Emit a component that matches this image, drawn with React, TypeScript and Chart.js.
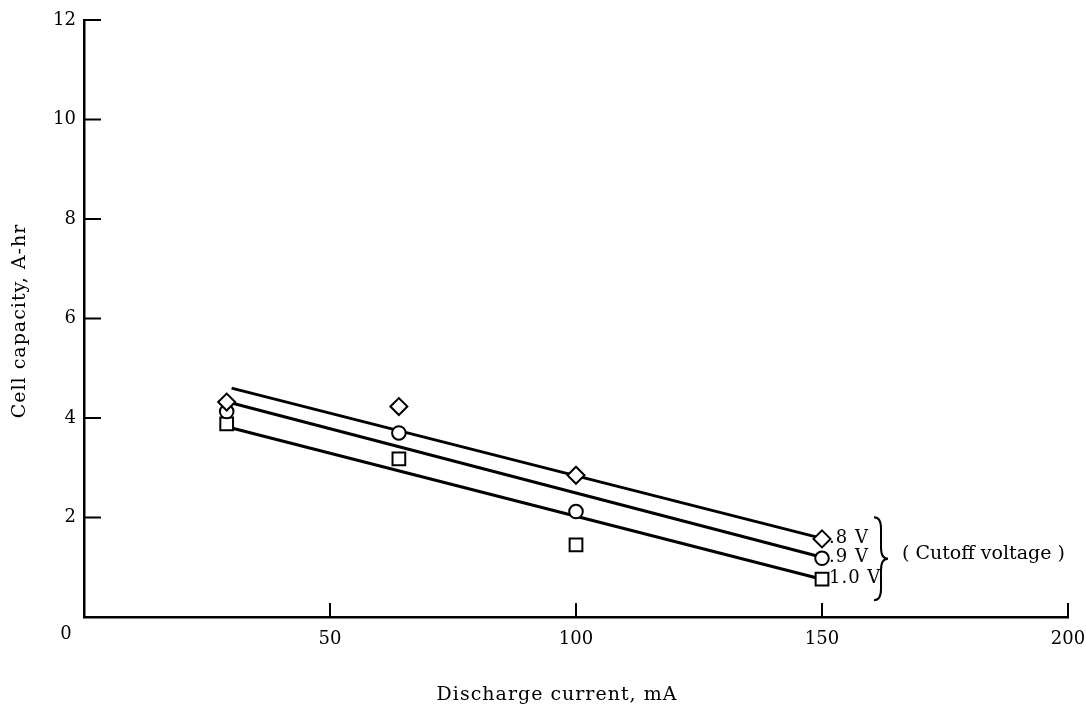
import React, { useEffect, useRef } from 'react';
import { Chart, registerables } from 'chart.js';

Chart.register(...registerables);

// Discharge current (mA) for the measured points
const currents = [29, 64, 100, 150];
// Measured cell capacity (A-hr) for each cutoff voltage
const cap08 = [4.32, 4.23, 2.85, 1.57];
const cap09 = [4.13, 3.7, 2.12, 1.18];
const cap10 = [3.88, 3.18, 1.45, 0.76];
// Fitted straight lines (end points)
const fitX = [30, 150];
const fit08 = [4.6, 1.58];
const fit09 = [4.3, 1.2];
const fit10 = [3.8, 0.76];

const seriesLabels = ['.8 V', '.9 V', '1.0 V'];
const xTicks = [0, 50, 100, 150, 200];
const yTicks = [0, 2, 4, 6, 8, 10, 12];
const xTitle = 'Discharge current, mA';
const yTitle = 'Cell capacity, A-hr';
const groupNote = '( Cutoff voltage )';
const originLabel = '0';

const FONT = '"DejaVu Serif", serif';

function drawBrace(ctx: CanvasRenderingContext2D, x: number, top: number, bottom: number, w: number) {
  const mid = (top + bottom) / 2;
  const r = w / 2;
  ctx.beginPath();
  ctx.moveTo(x, top);
  ctx.quadraticCurveTo(x + r, top, x + r, top + r * 1.6);
  ctx.lineTo(x + r, mid - r * 1.6);
  ctx.quadraticCurveTo(x + r, mid, x + w, mid);
  ctx.quadraticCurveTo(x + r, mid, x + r, mid + r * 1.6);
  ctx.lineTo(x + r, bottom - r * 1.6);
  ctx.quadraticCurveTo(x + r, bottom, x, bottom);
  ctx.stroke();
}

const annotPlugin = {
  id: 'annot',
  afterDraw(chart: any) {
    const ctx: CanvasRenderingContext2D = chart.ctx;
    const xs = chart.scales.x;
    const ys = chart.scales.y;
    const area = chart.chartArea;
    ctx.save();
    ctx.strokeStyle = '#000';
    ctx.fillStyle = '#000';
    ctx.lineWidth = 2;
    ctx.lineCap = 'butt';
    // inward tick marks
    yTicks.forEach((v) => {
      if (v === 0) return;
      const py = ys.getPixelForValue(v);
      ctx.beginPath();
      ctx.moveTo(area.left, py);
      ctx.lineTo(area.left + 17, py);
      ctx.stroke();
    });
    xTicks.forEach((v) => {
      if (v === 0) return;
      const px = xs.getPixelForValue(v);
      ctx.beginPath();
      ctx.moveTo(px, area.bottom);
      ctx.lineTo(px, area.bottom - 14);
      ctx.stroke();
    });

    // origin label
    ctx.font = `18px ${FONT}`;
    ctx.textAlign = 'center';
    ctx.textBaseline = 'middle';
    ctx.fillText(originLabel, xs.getPixelForValue(0) - 18, ys.getPixelForValue(0) + 17);

    // series labels
    const lastVals = [cap08[3], cap09[3], cap10[3]];
    const lastX = xs.getPixelForValue(currents[3]);
    ctx.font = `18px ${FONT}`;
    (ctx as any).letterSpacing = '1px';
    ctx.textAlign = 'left';
    ctx.textBaseline = 'middle';
    lastVals.forEach((v, i) => {
      ctx.fillText(seriesLabels[i], lastX + 7, ys.getPixelForValue(v) - 1);
    });

    // brace
    const midY = ys.getPixelForValue(cap09[3]);
    ctx.lineWidth = 2;
    drawBrace(ctx, lastX + 52, midY - 41, midY + 42, 14);
    (ctx as any).letterSpacing = '0px';
    ctx.font = `19px ${FONT}`;
    ctx.fillText(groupNote, lastX + 80, midY - 4);

    // axis titles
    (ctx as any).letterSpacing = '1px';
    ctx.font = `19px ${FONT}`;
    ctx.textAlign = 'center';
    ctx.textBaseline = 'middle';
    ctx.fillText(xTitle, 557, area.bottom + 78);
    ctx.save();
    ctx.translate(20, 321);
    ctx.rotate(-Math.PI / 2);
    ctx.fillText(yTitle, 0, 0);
    ctx.restore();
    (ctx as any).letterSpacing = '0px';
    ctx.restore();
  },
};

const pts = (xsArr: number[], ysArr: number[]) => xsArr.map((x, i) => ({ x, y: ysArr[i] }));

export default function App() {
  const ref = useRef<HTMLCanvasElement | null>(null);
  useEffect(() => {
    if (!ref.current) return;
    const markerBase = {
      showLine: false,
      borderColor: '#000',
      backgroundColor: '#fff',
      borderWidth: 2,
      order: 0,
    };
    const lineBase = {
      showLine: true,
      borderColor: '#000',
      backgroundColor: '#000',
      borderWidth: 3,
      pointRadius: 0,
      order: 1,
    };
    const chart = new Chart(ref.current, {
      type: 'scatter',
      data: {
        datasets: [
          { ...markerBase, label: seriesLabels[0], data: pts(currents, cap08), pointStyle: 'rectRot', pointRadius: 8.5 },
          { ...markerBase, label: seriesLabels[1], data: pts(currents, cap09), pointStyle: 'circle', pointRadius: 6.8 },
          { ...markerBase, label: seriesLabels[2], data: pts(currents, cap10), pointStyle: 'rect', pointRadius: 9 },
          { ...lineBase, label: 'fit .8 V', data: pts(fitX, fit08) },
          { ...lineBase, label: 'fit .9 V', data: pts(fitX, fit09) },
          { ...lineBase, label: 'fit 1.0 V', data: pts(fitX, fit10) },
        ] as any,
      },
      options: {
        animation: false,
        responsive: true,
        maintainAspectRatio: false,
        layout: { padding: { top: 20, right: 18, left: 0, bottom: 0 } },
        plugins: { legend: { display: false }, tooltip: { enabled: false } },
        scales: {
          x: {
            type: 'linear',
            min: 0,
            max: 200,
            afterBuildTicks: (s: any) => {
              s.ticks = xTicks.map((v) => ({ value: v }));
            },
            afterFit: (s: any) => {
              s.height = 96;
              s.paddingLeft = 0;
              s.paddingRight = 0;
            },
            grid: { display: false, drawTicks: false },
            border: { display: true, color: '#000', width: 2.5 },
            ticks: {
              color: '#000',
              font: { family: FONT, size: 18 },
              padding: 12,
              maxRotation: 0,
              autoSkip: false,
              callback: (v: any) => (v === 0 ? '' : String(v)),
            },
          },
          y: {
            type: 'linear',
            min: 0,
            max: 12,
            afterBuildTicks: (s: any) => {
              s.ticks = yTicks.map((v) => ({ value: v }));
            },
            afterFit: (s: any) => {
              s.width = 84;
              s.paddingTop = 0;
              s.paddingBottom = 0;
            },
            grid: { display: false, drawTicks: false },
            border: { display: true, color: '#000', width: 2.5 },
            ticks: {
              color: '#000',
              font: { family: FONT, size: 18 },
              padding: 8,
              autoSkip: false,
              callback: (v: any) => (v === 0 ? '' : String(v)),
            },
          },
        },
      } as any,
      plugins: [annotPlugin],
    });
    return () => chart.destroy();
  }, []);
  return (
    <div style={{ position: 'fixed', left: 0, top: 0, width: '1086px', height: '713px', background: '#fff' }}>
      <canvas ref={ref} />
    </div>
  );
}
